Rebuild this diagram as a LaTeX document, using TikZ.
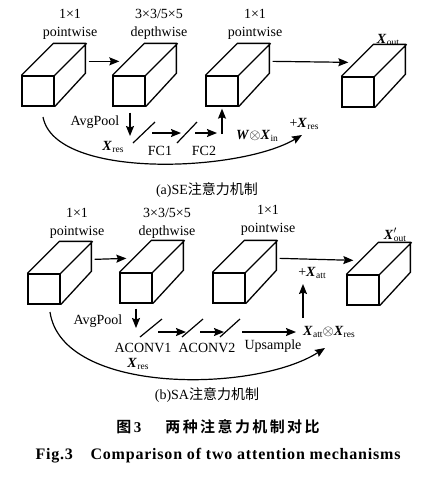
\documentclass[tikz,border=0pt]{standalone}
\usepackage{fontspec}
\setmainfont{Liberation Serif}
\newfontfamily\cjk{Noto Sans CJK SC}
\newfontfamily\cjkbold[LetterSpace=16]{Noto Sans CJK SC Bold}
\newfontfamily\capfont[LetterSpace=5]{Liberation Serif}
\usetikzlibrary{arrows.meta,positioning,calc}
\tikzstyle{arrow} = [line width=1.2pt,-{Stealth[length=10pt,width=8pt,inset=1.5pt]}]

% bold italic X with a small upright index
\newcommand{\bx}[1]{\textbf{\textit{X}}\kern0.3pt\raisebox{-0.4ex}{\fontsize{9.5}{9.5}\selectfont #1}}
% cube: name, centre of the front face
\newcommand{\blockcube}[2]{%
  \node[cubeface] (#1) at #2 {};
  \draw[cubeline] (#1.north west) -- ++(32,-32) -- ++(32,0) -- ++(0,30) -- (#1.south east)
        (#1.north east) -- ++(32,-32);
  \coordinate (#1-out) at ($(#1.north east)+(34,-14)$);
  \coordinate (#1-in) at ($(#1.north west)+(7,-14)$);
}

\begin{document}
\begin{tikzpicture}[x=1pt,y=-1pt,
    cubeface/.style={draw,line width=1.3pt,minimum width=32pt,minimum height=30pt,inner sep=0},
    cubeline/.style={line width=1.3pt},
    slashline/.style={line width=1.2pt},
    lbl/.style={font=\fontsize{14}{18}\selectfont,inner sep=0,align=center},]
    \useasboundingbox (0,0) rectangle (447,480);

    % (a) SE
    \blockcube{a1}{(38,91)}
    \blockcube{a2}{(129,91)}
    \blockcube{a3}{(222,91)}
    \blockcube{a4}{(358,92)}
    \draw[arrow] (a1-out) -- (a2-in);
    \draw[arrow] (a3-out) -- (a4-in);

    \node[lbl] (a1t) at (70,24) {1×1\\pointwise};
    \node[lbl] (a2t) at (159,24) {3×3/5×5\\depthwise};
    \node[lbl] (a3t) at (255,24) {1×1\\pointwise};
    \node[lbl] (a4t) at (388,40) {\bx{out}};

    % AvgPool -> FC1 -> FC2 -> W x X_in
    \coordinate (a-dn) at ($(a2.south)+(1,6)$);
    \coordinate (a-pool) at (130,136);
    \coordinate (a-f1s) at (152,133);
    \coordinate (a-f1e) at (181,133);
    \coordinate (a-f2s) at (195,133);
    \coordinate (a-f2e) at (217,133);
    \coordinate (a-up) at (222,134);
    \draw[arrow] (a-dn) -- (a-pool);
    \draw[slashline] (133,143) -- (155,122);
    \draw[arrow] (a-f1s) -- (a-f1e);
    \draw[slashline] (177,143) -- (197,122);
    \draw[arrow] (a-f2s) -- (a-f2e);
    \draw[arrow] (a-up) -- ($(a3.south)+(0,2)$);

    \node[lbl] (apool) at (95,122) {AvgPool};
    \node[lbl] (axres) at (113,147) {\bx{res}};
    \node[lbl] (afc1) at (160,151) {FC1};
    \node[lbl] (afc2) at (204,151) {FC2};
    \node[lbl] (awx) at (257,136) {\textbf{\textit{W}}$\otimes$\bx{in}};
    \node[lbl] (aplus) at (304,124) {+\bx{res}};

    % residual
    \coordinate (a-rs) at (43,117);
    \coordinate (a-re) at (302,135);
    \draw[arrow] (a-rs) .. controls (55,180) and (240,172) .. (a-re);

    \node[lbl] (acap) at (207,190) {(a)SE{\cjk 注意力机制}};

    % (b) SA
    \blockcube{b1}{(44,289)}
    \blockcube{b2}{(136,288)}
    \blockcube{b3}{(229,288)}
    \blockcube{b4}{(363,290)}
    \draw[arrow] (b1-out) -- (b2-in);
    \draw[arrow] (b3-out) -- (b4-in);

    \node[lbl] (b1t) at (77,223) {1×1\\pointwise};
    \node[lbl] (b2t) at (167,223) {3×3/5×5\\depthwise};
    \node[lbl] (b3t) at (268,220) {1×1\\pointwise};
    \node[lbl] (b4t) at (395,235) {\textbf{\textit{X}}\rlap{$'$}\kern0.3pt\raisebox{-0.4ex}{\fontsize{9.5}{9.5}\selectfont out}};

    % AvgPool -> ACONV1 -> ACONV2 -> Upsample -> X_att x X_res
    \coordinate (b-dn) at ($(b2.south)+(0,5)$);
    \coordinate (b-pool) at (136,328);
    \coordinate (b-c1s) at (158,332);
    \coordinate (b-c1e) at (186,332);
    \coordinate (b-c2s) at (200,332);
    \coordinate (b-c2e) at (224,332);
    \coordinate (b-ups) at (242,332);
    \coordinate (b-upe) at (296,332);
    \coordinate (b-mu) at (303,318);
    \coordinate (b-pu) at (303,284);
    \draw[arrow] (b-dn) -- (b-pool);
    \draw[slashline] (140,337) -- (162,319);
    \draw[arrow] (b-c1s) -- (b-c1e);
    \draw[slashline] (182,337) -- (203,319);
    \draw[arrow] (b-c2s) -- (b-c2e);
    \draw[slashline] (220,337) -- (240,319);
    \draw[arrow] (b-ups) -- (b-upe);
    \draw[arrow] (b-mu) -- (b-pu);

    \node[lbl] (bpool) at (98,321) {AvgPool};
    \node[lbl] (bac1) at (143,348) {ACONV1};
    \node[lbl] (bxres) at (138,364) {\bx{res}};
    \node[lbl] (bac2) at (207,348) {ACONV2};
    \node[lbl] (bups) at (273,346) {Upsample};
    \node[lbl] (bmul) at (329,332) {\bx{att}$\otimes$\bx{res}};
    \node[lbl] (bplus) at (312,273) {+\bx{att}};

    % residual
    \coordinate (b-rs) at (50,312);
    \coordinate (b-re) at (325,348);
    \draw[arrow] (b-rs) .. controls (62,395) and (255,393) .. (b-re);

    \node[lbl] (bcap) at (207,395) {(b)SA{\cjk 注意力机制}};

    % caption
    \node[lbl,font=\fontsize{15}{16}\selectfont] (cn) at (218,427) {{\cjkbold 图}\,\textbf{3}\hspace{1.6em}{\cjkbold 两种注意力机制对比}};
    \node[lbl,font=\fontsize{16}{18}\selectfont\capfont\bfseries] (en) at (218,456) {Fig.3\hspace{1.1em}Comparison of two attention mechanisms};
\end{tikzpicture}
\end{document}
